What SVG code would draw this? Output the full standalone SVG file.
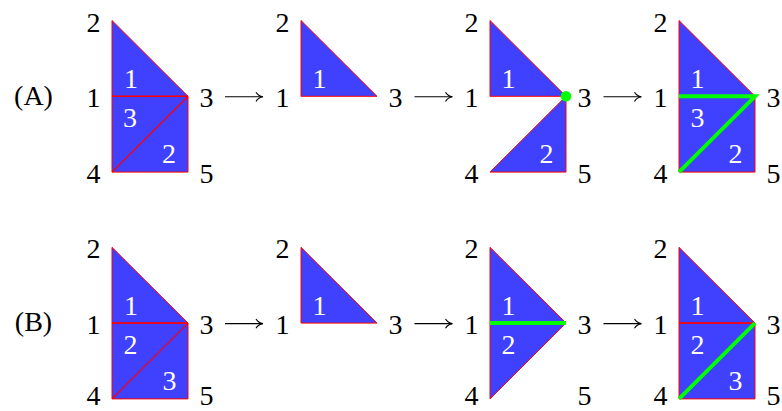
<svg xmlns="http://www.w3.org/2000/svg" xmlns:xlink="http://www.w3.org/1999/xlink" width="782" height="411" viewBox="0 0 782 411">
<style>
text{font-family:"Liberation Serif","DejaVu Serif",serif;font-size:28px;text-anchor:middle}
.lb{fill:#000}
.in{fill:#fff}
.tri{fill:#4040ff;stroke:#ff0000;stroke-width:1;stroke-linejoin:miter}
.ed{stroke:#ff0000;stroke-width:1.2;fill:none}
.gr{stroke:#00ff00;stroke-width:4;fill:none;stroke-linejoin:miter;stroke-miterlimit:10}
.arr{stroke:#000;stroke-width:1.1;fill:none}
</style>
<defs>
<g id="arrow">
<line class="arr" x1="0" y1="0" x2="37.5" y2="0"/>
<path class="arr" d="M31 -4.6 C32.5 -2 35 -0.5 38 0 C35 0.5 32.5 2 31 4.6"/>
</g>
</defs>

<g id="label-A"><text class="lb" x="33.5" y="104.5">(A)</text></g>
<g id="label-B"><text class="lb" x="33.5" y="331.3">(B)</text></g>

<!-- Row A -->
<g id="A1">
<polygon class="tri" points="112,20.5 112,96.3 188,96.3"/>
<polygon class="tri" points="112,96.3 188,96.3 112,172.1"/>
<polygon class="tri" points="188,96.3 188,172.1 112,172.1"/>
<line class="ed" x1="112" y1="96.3" x2="188" y2="96.3"/>
<line class="ed" x1="112" y1="172.1" x2="188" y2="96.3"/>
<text class="lb" x="93.5" y="31.5">2</text>
<text class="lb" x="93.5" y="107">1</text>
<text class="lb" x="206.5" y="107">3</text>
<text class="lb" x="93.5" y="182.5">4</text>
<text class="lb" x="206.5" y="182.5">5</text>
<text class="in" x="131" y="88">1</text>
<text class="in" x="130" y="127">3</text>
<text class="in" x="169" y="163">2</text>
</g>

<g id="A2">
<polygon class="tri" points="301,20.5 301,96.3 377,96.3"/>
<text class="lb" x="282.5" y="31.5">2</text>
<text class="lb" x="282.5" y="107">1</text>
<text class="lb" x="395.5" y="107">3</text>
<text class="in" x="319.5" y="88">1</text>
</g>

<g id="A3">
<polygon class="tri" points="490,20.5 490,96.3 566,96.3"/>
<polygon class="tri" points="566,96.3 566,172.1 490,172.1"/>
<circle cx="566" cy="96.3" r="5.3" fill="#00ff00"/>
<text class="lb" x="471.5" y="31.5">2</text>
<text class="lb" x="471.5" y="107">1</text>
<text class="lb" x="584.5" y="107">3</text>
<text class="lb" x="471.5" y="182.5">4</text>
<text class="lb" x="584.5" y="182.5">5</text>
<text class="in" x="508.5" y="88">1</text>
<text class="in" x="546.5" y="163">2</text>
</g>

<g id="A4">
<polygon class="tri" points="679,20.5 679,96.3 755,96.3"/>
<polygon class="tri" points="679,96.3 755,96.3 679,172.1"/>
<polygon class="tri" points="755,96.3 755,172.1 679,172.1"/>
<polyline class="gr" points="679,96.3 755,96.3 679,172.1"/>
<text class="lb" x="660.5" y="31.5">2</text>
<text class="lb" x="660.5" y="107">1</text>
<text class="lb" x="773.5" y="107">3</text>
<text class="lb" x="660.5" y="182.5">4</text>
<text class="lb" x="773.5" y="182.5">5</text>
<text class="in" x="697.5" y="88">1</text>
<text class="in" x="697.5" y="127">3</text>
<text class="in" x="735.5" y="163">2</text>
</g>

<!-- Row B -->
<g id="B1">
<polygon class="tri" points="112,247.3 112,323.1 188,323.1"/>
<polygon class="tri" points="112,323.1 188,323.1 112,398.9"/>
<polygon class="tri" points="188,323.1 188,398.9 112,398.9"/>
<line class="ed" x1="112" y1="323.1" x2="188" y2="323.1"/>
<line class="ed" x1="112" y1="398.9" x2="188" y2="323.1"/>
<text class="lb" x="93.5" y="258.3">2</text>
<text class="lb" x="93.5" y="333.8">1</text>
<text class="lb" x="206.5" y="333.8">3</text>
<text class="lb" x="93.5" y="405">4</text>
<text class="lb" x="206.5" y="405">5</text>
<text class="in" x="131" y="314.8">1</text>
<text class="in" x="130.5" y="353.8">2</text>
<text class="in" x="169.5" y="389.8">3</text>
</g>

<g id="B2">
<polygon class="tri" points="301,247.3 301,323.1 377,323.1"/>
<text class="lb" x="282.5" y="258.3">2</text>
<text class="lb" x="282.5" y="333.8">1</text>
<text class="lb" x="395.5" y="333.8">3</text>
<text class="in" x="319.5" y="314.8">1</text>
</g>

<g id="B3">
<polygon class="tri" points="490,247.3 490,323.1 566,323.1"/>
<polygon class="tri" points="490,323.1 566,323.1 490,398.9"/>
<line class="gr" x1="490" y1="323.1" x2="566" y2="323.1"/>
<text class="lb" x="471.5" y="258.3">2</text>
<text class="lb" x="471.5" y="333.8">1</text>
<text class="lb" x="584.5" y="333.8">3</text>
<text class="lb" x="471.5" y="405">4</text>
<text class="lb" x="584.5" y="405">5</text>
<text class="in" x="508.5" y="314.8">1</text>
<text class="in" x="508.5" y="353.8">2</text>
</g>

<g id="B4">
<polygon class="tri" points="679,247.3 679,323.1 755,323.1"/>
<polygon class="tri" points="679,323.1 755,323.1 679,398.9"/>
<polygon class="tri" points="755,323.1 755,398.9 679,398.9"/>
<line class="ed" x1="679" y1="323.1" x2="755" y2="323.1"/>
<line class="gr" x1="679" y1="398.9" x2="755" y2="323.1"/>
<text class="lb" x="660.5" y="258.3">2</text>
<text class="lb" x="660.5" y="333.8">1</text>
<text class="lb" x="773.5" y="333.8">3</text>
<text class="lb" x="660.5" y="405">4</text>
<text class="lb" x="773.5" y="405">5</text>
<text class="in" x="697.5" y="314.8">1</text>
<text class="in" x="697.5" y="353.8">2</text>
<text class="in" x="735.5" y="389.8">3</text>
</g>

<g id="connectors">
<use xlink:href="#arrow" x="225" y="96.8"/>
<use xlink:href="#arrow" x="414.5" y="96.8"/>
<use xlink:href="#arrow" x="603.5" y="96.8"/>
<use xlink:href="#arrow" x="225" y="323.6"/>
<use xlink:href="#arrow" x="414.5" y="323.6"/>
<use xlink:href="#arrow" x="603.5" y="323.6"/>
</g>
</svg>
